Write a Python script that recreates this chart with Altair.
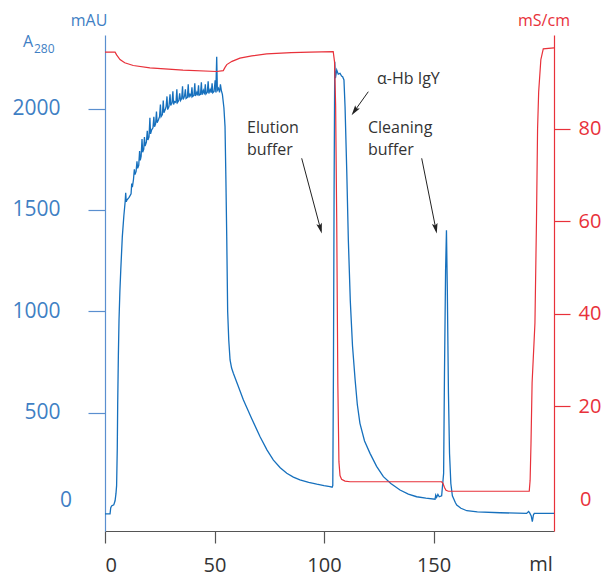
import altair as alt
import pandas as pd

# ---------------- data ----------------
blue_ml = [0, 2.3, 2.6, 3.0, 4.0, 4.6, 5.0, 5.3, 5.6, 5.8, 6.1, 6.4, 6.8, 7.2, 7.9, 8.6, 9.2, 9.45, 9.7, 10.0,
           11.0, 11.9, 12.2, 12.5,
           13.0, 13.4, 13.7, 14.2, 14.6, 14.9, 15.4, 15.8, 16.1, 16.5, 16.9, 17.2, 17.7, 18.0, 18.3, 18.9,
           19.3, 19.6, 20.1, 20.5, 20.8, 21.3, 21.9, 22.3, 22.6, 23.1, 23.5, 23.8, 24.4, 24.9, 25.3, 25.6,
           26.2, 26.6, 26.9, 27.5, 27.9, 28.3, 28.6, 29.2, 29.7, 30.0, 30.6, 31.0, 31.3, 31.8, 32.4, 32.8,
           33.1, 33.7, 34.1, 34.5, 35.0, 35.4, 35.7, 36.3, 36.7, 37.0, 37.6, 38.0, 38.3, 38.8, 39.3, 39.7,
           40.0, 40.6, 41.0, 41.3, 41.9, 42.3, 42.7, 43.0, 43.6, 44.0, 44.3, 44.9, 45.4, 45.8, 46.1, 46.7,
           47.1, 47.4, 48.0, 48.5, 48.9, 49.2, 49.8, 50.3, 50.6, 51.0, 51.3, 51.8, 52.3, 52.7, 53.1, 53.6,
           54.3, 54.8, 55.2, 55.6, 56.0, 56.5, 57.1, 57.8, 58.6, 60.5, 63.2, 67.0,
           70.8, 74.0, 76.9, 80.0, 83.0, 86.0, 89.0, 93.0, 96.7, 100.0, 102.7, 103.7, 104.0, 104.3, 104.6, 104.9,
           105.2, 105.8, 106.5, 107.3, 108.0, 108.5, 109.1, 109.6, 110.4, 111.1, 112.0, 113.0, 114.2, 115.2,
           116.4, 118.5, 121.0, 124.0, 127.1, 130.5, 134.7, 138.5, 142.3, 146.5, 150.7, 151.0, 151.4, 152.0,
           152.6, 153.7, 154.6, 155.0, 155.5, 155.9, 156.3, 156.8, 157.3, 157.9, 158.6, 160.0, 160.6, 162.5,
           165.2, 170.0, 180.4, 192.5, 193.4, 193.9, 194.6, 195.1, 195.6, 196.0, 205.0]
blue_mau = [0, 0, 30, 40, 45, 65, 100, 140, 320, 547, 780, 957, 1100, 1204, 1367, 1470, 1540, 1585, 1540, 1549,
            1562, 1579, 1630, 1612,
            1650, 1700, 1675, 1690, 1740, 1705, 1720, 1790, 1745, 1765, 1850, 1785, 1800, 1860, 1815, 1835,
            1890, 1845, 1860, 1955, 1875, 1895, 1905, 1960, 1910, 1925, 1985, 1930, 1945, 1960, 2020, 1960,
            1970, 2040, 1980, 1995, 2010, 2060, 1995, 2010, 2070, 2015, 2030, 2085, 2020, 2035, 2030, 2095,
            2030, 2040, 2075, 2040, 2050, 2110, 2045, 2060, 2095, 2050, 2055, 2120, 2055, 2070, 2060, 2105,
            2060, 2065, 2125, 2062, 2080, 2065, 2115, 2066, 2070, 2130, 2068, 2090, 2070, 2120, 2072, 2080,
            2135, 2074, 2095, 2078, 2125, 2078, 2085, 2140, 2080, 2256, 2090, 2100, 2080, 2120, 2090, 2070,
            2003, 1911, 1650, 1352, 1000, 858, 760, 720, 694, 640, 562, 470,
            381, 315, 266, 228, 201, 182, 168, 156, 147, 140, 135, 132, 140, 700, 1600, 2231,
            2150, 2190, 2170, 2174, 2160, 2157, 2141, 2009, 1682, 1352, 1050, 830, 661, 540,
            447, 360, 299, 235, 184, 150, 118, 98, 85, 78, 73, 93, 82, 96,
            85, 90, 200, 700, 1200, 1400, 1100, 600, 300, 150, 90, 55, 44, 28,
            16, 10, 6, 3, 12, 5, -10, -38, -5, 3, 3]

red_ml = [0, 4.6, 5.3, 6.85, 9.0, 12.9, 20.5, 35.6, 51.0, 54.0, 54.8, 55.6, 58.0, 61.6, 67.0, 73.8, 85.0, 93.6,
          104.2, 104.8, 105.3, 105.8, 106.3, 106.8, 107.3, 108.0, 109.6, 111.9, 153.7, 154.3, 155.0, 155.7,
          156.8, 193.7, 194.1, 194.5, 195.0, 195.8, 196.3, 197.0, 197.5, 198.0, 199.0, 200.1, 205.0]
red_ms = [96.6, 96.6, 96.0, 95.0, 94.3, 93.7, 93.2, 92.7, 92.4, 92.6, 93.3, 93.9, 94.6, 95.3, 95.8, 96.2, 96.5, 96.6,
          96.7, 94.5, 85.0, 60.0, 25.0, 8.0, 5.0, 4.2, 3.8, 3.65, 3.65, 3.3, 2.4, 1.8,
          1.6, 1.6, 4.0, 12.0, 25.0, 33.0, 38.0, 60.0, 80.0, 88.0, 95.0, 97.3, 97.5]

x_ticks = [0, 50, 100, 150]
left_ticks = [500, 1000, 1500, 2000]
right_ticks = [20, 40, 60, 80]

# ---------------- style ----------------
BLUE_LINE = "#1670bd"
BLUE_TXT = "#3f7fc4"
BLUE_AX = "#5a8fcf"
RED = "#e8313a"
GREY = "#333333"
FONT = "Open Sans"

blue_df = pd.DataFrame({"ml": blue_ml, "mAU": blue_mau})
red_df = pd.DataFrame({"ml": red_ml, "mScm": red_ms})

xscale = alt.Scale(domain=[0, 205], nice=False, zero=False)
xaxis = alt.Axis(values=x_ticks, title=None, tickSize=12, labelPadding=12, labelFontSize=20,
                 labelColor=GREY, domainColor="#555555", tickColor="#555555", grid=False,
                 labelFont=FONT, domainWidth=1.2, tickWidth=1.2, format="d")

blue = alt.Chart(blue_df).mark_line(color=BLUE_LINE, strokeWidth=1.3).encode(
    x=alt.X("ml:Q", scale=xscale, axis=xaxis),
    y=alt.Y("mAU:Q", scale=alt.Scale(domain=[-84, 2363], nice=False, zero=False),
            axis=alt.Axis(orient="left", values=left_ticks, title=None, tickSize=17, labelPadding=28,
                          labelFontSize=21, labelColor=BLUE_TXT, domainColor=BLUE_AX, tickColor=BLUE_AX,
                          grid=False, labelFont=FONT, domainWidth=1.2, tickWidth=1.2, format="d")),
)

red = alt.Chart(red_df).mark_line(color=RED, strokeWidth=1.2).encode(
    x=alt.X("ml:Q", scale=xscale, axis=xaxis),
    y=alt.Y("mScm:Q", scale=alt.Scale(domain=[-7, 100.3], nice=False, zero=False),
            axis=alt.Axis(orient="right", values=right_ticks, title=None, tickSize=16, labelPadding=8,
                          labelFontSize=20, labelColor=RED, domainColor=RED, tickColor=RED,
                          grid=False, labelFont=FONT, domainWidth=1.2, tickWidth=1.2, format="d")),
)


def txt(s, x, y, size, color, align="left", baseline="alphabetic"):
    return alt.Chart(alt.Data(values=[{}])).mark_text(
        text=s, fontSize=size, color=color, font=FONT, align=align, baseline=baseline, lineHeight=22
    ).encode(x=alt.value(x), y=alt.value(y))


ARROW_PATH = "M0,-1 L0.5,0.8 L0,0.45 L-0.5,0.8 Z"


def arrow(x1, y1, x2, y2, angle, dx, dy):
    rule = alt.Chart(alt.Data(values=[{}])).mark_rule(color="#222222", strokeWidth=1).encode(
        x=alt.value(x1), y=alt.value(y1), x2=alt.value(x2 - 3 * dx), y2=alt.value(y2 - 3 * dy))
    head = alt.Chart(alt.Data(values=[{}])).mark_point(
        shape=ARROW_PATH, filled=True, size=130, angle=angle, color="#222222", opacity=1, strokeWidth=0
    ).encode(x=alt.value(x2 - 5.5 * dx), y=alt.value(y2 - 5.5 * dy))
    return [rule, head]


annots = [
    txt("mAU", -16, -9, 16, BLUE_TXT, align="center"),
    txt("A", -82, 12, 16, BLUE_TXT),
    txt("280", -71, 18, 12, BLUE_TXT),
    txt("mS/cm", 439, -9, 16, RED, align="center"),
    txt("0", -33, 466, 21, BLUE_TXT, align="right", baseline="middle"),
    txt("0", 475, 465, 20, RED, align="left", baseline="middle"),
    txt("ml", 436, 530, 20, GREY, align="center", baseline="middle"),
    txt(["Elution", "buffer"], 142, 98, 16, GREY),
    txt(["Cleaning", "buffer"], 263, 98, 16, GREY),
    txt("α-Hb IgY", 272, 49, 16, GREY),
]
annots += arrow(196.7, 123.3, 216.7, 198.3, 165, 0.258, 0.966)
annots += arrow(316.7, 123.3, 331.7, 198.3, 168.7, 0.196, 0.980)
annots += arrow(263.3, 56.7, 246.7, 80.0, 215.5, -0.580, 0.815)

chart = alt.layer(blue, red, *annots).resolve_scale(y="independent").properties(
    width=449, height=496,
    autosize=alt.AutoSizeParams(type="none"),
    padding={"left": 97, "top": 27, "right": 48, "bottom": 46},
).configure_view(stroke=None)

chart.save("out.html", embed_options={"renderer": "svg", "actions": False})
